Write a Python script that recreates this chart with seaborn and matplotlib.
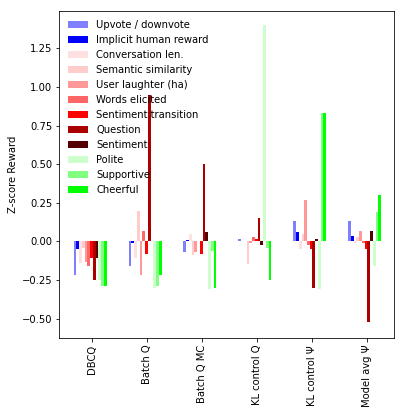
import numpy as np
import pandas as pd
import seaborn as sns
import matplotlib
matplotlib.use("Agg")
import matplotlib.pyplot as plt

# models on the x axis
models = ["DBCQ", "Batch Q", "Batch Q MC", "KL control Q", "KL control Ψ", "Model avg Ψ"]

# z-score reward per reward type
upvote = [-0.22, -0.16, -0.07, 0.015, 0.13, 0.13]
implicit = [-0.05, -0.01, 0.01, 0.0, 0.06, 0.035]
conv_len = [-0.14, -0.11, 0.05, 0.005, -0.05, -0.01]
semantic = [-0.04, 0.20, -0.09, -0.145, 0.05, 0.03]
laughter = [-0.13, -0.22, -0.07, -0.01, 0.27, 0.07]
words = [-0.16, 0.07, 0.0, 0.03, -0.02, -0.01]
sent_trans = [-0.11, -0.08, -0.08, 0.015, -0.05, -0.05]
question = [-0.25, 0.95, 0.50, 0.15, -0.30, -0.52]
sentiment = [-0.11, 0.005, 0.06, -0.025, 0.015, 0.065]
polite = [-0.25, -0.30, -0.31, 1.40, -0.31, -0.16]
supportive = [-0.29, -0.29, -0.06, -0.04, 0.83, 0.19]
cheerful = [-0.29, -0.22, -0.30, -0.25, 0.83, 0.30]

rewards = ["Upvote / downvote", "Implicit human reward", "Conversation len.",
           "Semantic similarity", "User laughter (ha)", "Words elicited",
           "Sentiment transition", "Question", "Sentiment", "Polite",
           "Supportive", "Cheerful"]
colors = ["#8080ff", "#0000ff", "#ffe0e0", "#ffcccc", "#ff9999", "#ff6666",
          "#ff0000", "#aa0000", "#550000", "#ccffcc", "#80ff80", "#00ff00"]

series = [upvote, implicit, conv_len, semantic, laughter, words,
          sent_trans, question, sentiment, polite, supportive, cheerful]

rows = []
for name, vals in zip(rewards, series):
    for m, v in zip(models, vals):
        rows.append({"model": m, "reward": name, "z": v})
df = pd.DataFrame(rows)

fig = plt.figure(figsize=(404 / 72, 415 / 72), dpi=72)
ax = fig.add_axes([0.147, 0.186, 0.829, 0.788])

sns.barplot(data=df, x="model", y="z", hue="reward", order=models,
            hue_order=rewards, palette=colors, saturation=1, width=0.6,
            errorbar=None, linewidth=0, ax=ax)

# bars sit a little left of the ticks in the original
for p in ax.patches:
    p.set_x(p.get_x() - 0.04)

ax.set_xlim(-0.6, 5.5)
ax.set_ylim(-0.624, 1.493)
ax.set_yticks(np.arange(-0.5, 1.26, 0.25))
ax.set_xlabel("")
ax.set_ylabel("Z-score Reward")
plt.setp(ax.get_xticklabels(), rotation=90)
sns.move_legend(ax, "upper left", frameon=False, title=None)

fig.savefig("out.png", dpi=72)
